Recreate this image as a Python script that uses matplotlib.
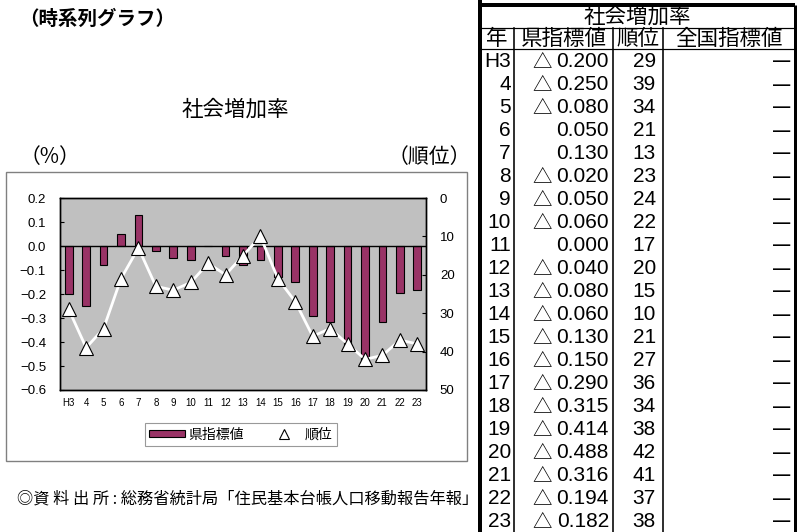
import matplotlib
matplotlib.use("Agg")
import matplotlib.pyplot as plt
from matplotlib.patches import Rectangle, Patch
from matplotlib.lines import Line2D

plt.rcParams['font.family'] = ['Noto Sans CJK JP', 'DejaVu Sans']
plt.rcParams['axes.unicode_minus'] = True

years = ["H3", "4", "5", "6", "7", "8", "9", "10", "11", "12", "13", "14",
         "15", "16", "17", "18", "19", "20", "21", "22", "23"]
values = [-0.200, -0.250, -0.080, 0.050, 0.130, -0.020, -0.050, -0.060, 0.000,
          -0.040, -0.080, -0.060, -0.130, -0.150, -0.290, -0.315, -0.414,
          -0.488, -0.316, -0.194, -0.182]
ranks = [29, 39, 34, 21, 13, 23, 24, 22, 17, 20, 15, 10, 21, 27, 36, 34, 38,
         42, 41, 37, 38]
national = ["—"] * len(years)
left_ticks = [0.2, 0.1, 0.0, -0.1, -0.2, -0.3, -0.4, -0.5, -0.6]
right_ticks = [0, 10, 20, 30, 40, 50]

W, H = 797, 532
fig = plt.figure(figsize=(W / 100, H / 100), dpi=100)

ov = fig.add_axes([0, 0, 1, 1])
ov.set_xlim(0, W)
ov.set_ylim(H, 0)
ov.axis('off')

def px(l, t, r, b):
    return [l / W, 1 - b / H, (r - l) / W, (b - t) / H]

NUM = ['Liberation Sans', 'DejaVu Sans']

# texts
ov.text(19, 19, "（時系列グラフ）", fontsize=14, fontweight='bold', va='center', ha='left')
ov.text(235, 110, "社会増加率", fontsize=15.5, va='center', ha='center')
ov.text(20, 157, "（%）", fontsize=15, va='center', ha='left')
ov.text(471, 157, "（順位）", fontsize=15, va='center', ha='right')
ov.text(17, 499, "◎資 料 出 所 : 総務省統計局「住民基本台帳人口移動報告年報」",
        fontsize=11.7, va='center', ha='left')

ov.add_patch(Rectangle((6, 172), 461, 289, fill=False, edgecolor='#808080', lw=1.0))

# chart
ax = fig.add_axes(px(60, 198, 426, 390))
ax.set_facecolor('#C0C0C0')
x = list(range(len(years)))
ax.bar(x, values, width=0.45, color='#993366', edgecolor='black', lw=0.8, zorder=2)
ax.axhline(0, color='black', lw=1.0, zorder=3)
ax.set_ylim(-0.6, 0.2)
ax.set_xlim(-0.5, len(years) - 0.5)
ax.set_yticks(left_ticks)
ax.set_yticklabels([f"{v:.1f}".replace("-", "−") if abs(v) > 1e-9 else "0.0" for v in left_ticks],
                   fontsize=9.5, family=NUM)
ax.set_xticks(x)
ax.set_xticklabels(years, fontsize=7, family=NUM)
ax.tick_params(axis='x', length=0, pad=6)
ax.tick_params(axis='y', direction='in', length=3, pad=10)
for s in ax.spines.values():
    s.set_linewidth(1.0)
    s.set_color('black')

ax2 = ax.twinx()
ax2.plot(x, ranks, color='white', lw=2, marker='^', markersize=9.5,
         markerfacecolor='white', markeredgecolor='black', markeredgewidth=0.8, zorder=4)
ax2.set_ylim(50, 0)
ax2.set_yticks(right_ticks)
ax2.set_yticklabels([str(t) for t in right_ticks], fontsize=9.5, family=NUM)
ax2.tick_params(axis='y', direction='in', length=3, pad=10)
for s in ax2.spines.values():
    s.set_linewidth(1.0)

handles = [Patch(facecolor='#993366', edgecolor='black', lw=0.8),
           Line2D([], [], color='none', marker='^', markersize=7.5,
                  markerfacecolor='white', markeredgecolor='black', markeredgewidth=0.8)]
leg = fig.legend(handles, ["県指標値", "順位"], loc='center', ncol=2,
                 bbox_to_anchor=(241 / W, 1 - 434.5 / H), fontsize=10,
                 frameon=True, fancybox=False, edgecolor='#808080',
                 handlelength=2.6, handleheight=0.45, columnspacing=1.6,
                 handletextpad=0.2, borderpad=0.3)
leg.get_frame().set_linewidth(0.8)

# table
ptw = 0.72
cols = [480, 514.5, 613, 663, 795.5]
top, h1, h2 = 5, 27.5, 49
rowh = 23
ov.plot([cols[0], cols[0]], [0, H], color='black', lw=4 * ptw, solid_capstyle='butt')
ov.plot([cols[-1], cols[-1]], [top, H], color='black', lw=3 * ptw, solid_capstyle='butt')
ov.plot([cols[0], cols[-1]], [top, top], color='black', lw=4 * ptw, solid_capstyle='butt')
ov.plot([cols[0], cols[-1]], [h1, h1], color='black', lw=1.2 * ptw)
ov.plot([cols[0], cols[-1]], [h2, h2], color='black', lw=1.2 * ptw)
for c in cols[1:-1]:
    ov.plot([c, c], [h1, H], color='black', lw=1.6 * ptw)

fs_cjk = 15.5
fs_num = 15
ov.text((cols[0] + cols[-1]) / 2, (top + h1) / 2 + 0.5, "社会増加率", fontsize=fs_cjk, ha='center', va='center')
heads = ["年", "県指標値", "順位", "全国指標値"]
for i, hd in enumerate(heads):
    ov.text((cols[i] + cols[i + 1]) / 2, (h1 + h2) / 2 + 0.5, hd, fontsize=fs_cjk, ha='center', va='center')

for i, (yr, v, r, n) in enumerate(zip(years, values, ranks, national)):
    yc = h2 + rowh * (i + 0.5) + 1
    ov.text(511, yc, yr, fontsize=fs_num, ha='right', va='center', family=NUM)
    if v < 0:
        ov.text(542, yc, "△", fontsize=14, ha='center', va='center')
    ov.text(609, yc, f"{abs(v):.3f}", fontsize=fs_num, ha='right', va='center', family=NUM)
    ov.text(656, yc, str(r), fontsize=fs_num, ha='right', va='center', family=NUM)
    ov.text(791, yc, n, fontsize=fs_cjk, ha='right', va='center')

fig.savefig("out.png", dpi=100)
